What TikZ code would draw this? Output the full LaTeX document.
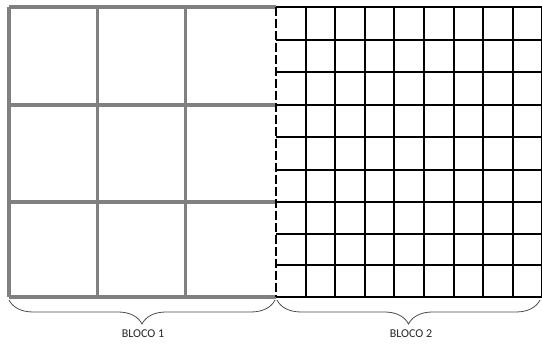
\documentclass[tikz,border=0pt]{standalone}
\usepackage{fontspec}
\setmainfont{Carlito}
\usetikzlibrary{decorations.pathreplacing}
\definecolor{gridgray}{HTML}{808080}
\definecolor{txtgray}{HTML}{262626}
\begin{document}
\begin{tikzpicture}[x=1pt,y=-1pt,
  coarse/.style={draw=gridgray,line width=3.4pt},
  fine/.style={draw=black,line width=1.9pt},
  divider/.style={draw=black,line width=2pt,dash pattern=on 9pt off 3pt},
  bracebox/.style={draw=black!70,line width=0.8pt,decorate,decoration={brace,mirror,amplitude=24pt}},
  blocklabel/.style={font=\fontsize{12}{14}\selectfont,text=txtgray,inner sep=0pt}]
\useasboundingbox (0,0) rectangle (542,344);
% fine grid (bloco 2)
\foreach \y in {7,39.7,72.3,105,137.3,169.7,202,233.7,265.3,297}
  \draw[fine] (276,\y) -- (543,\y);
\foreach \x in {305.6,335.2,364.8,394.4,424,453.6,483.2,512.8,542}
  \draw[fine] (\x,7) -- (\x,297);
% coarse grid (bloco 1)
\foreach \y in {7,105,202,297}
  \draw[coarse] (9,\y) -- (276,\y);
\foreach \x in {9,97.7,185.7}
  \draw[coarse] (\x,7) -- (\x,297);
% divider
\draw[divider] (276,7) -- (276,297);
% braces
\coordinate (b1a) at (9,300);
\coordinate (b1b) at (275,300);
\coordinate (b2a) at (277,300);
\coordinate (b2b) at (540,300);
\draw[bracebox] (b1a) -- (b1b);
\draw[bracebox] (b2a) -- (b2b);
\node[blocklabel] (l1) at (143,334) {BLOCO 1};
\node[blocklabel] (l2) at (411,334) {BLOCO 2};
\end{tikzpicture}
\end{document}
